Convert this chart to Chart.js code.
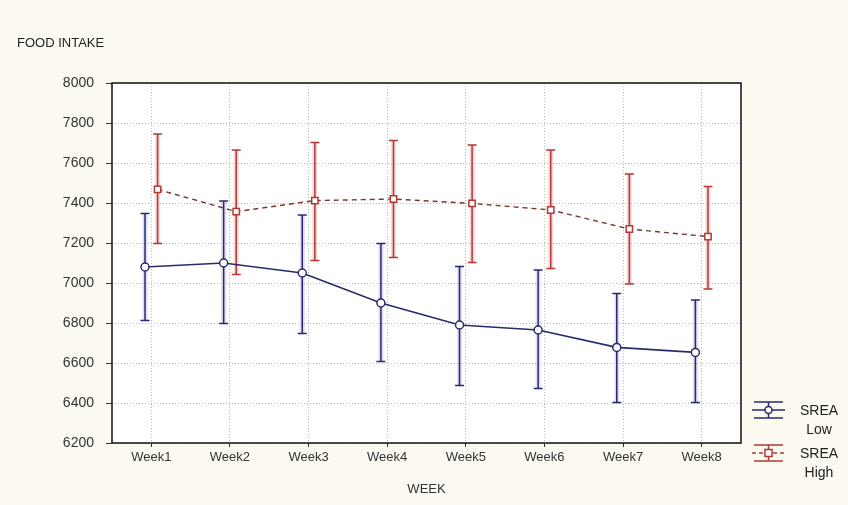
<!DOCTYPE html>
<html>
<head>
<meta charset="utf-8">
<script src="https://cdn.jsdelivr.net/npm/chart.js@4.4.1/dist/chart.umd.min.js"></script>
<style>
  html, body { margin: 0; padding: 0; background: #fbf9f0; }
  #wrap { width: 848px; height: 505px; position: relative; }
</style>
</head>
<body>
<div id="wrap"><canvas id="c" width="848" height="505"></canvas></div>
<script>
// ---- data ----
const weeks = ['Week1', 'Week2', 'Week3', 'Week4', 'Week5', 'Week6', 'Week7', 'Week8'];
const lowMean  = [7080, 7100, 7050, 6900, 6790, 6765, 6678, 6653];
const lowUpper = [7348, 7410, 7340, 7198, 7082, 7065, 6948, 6915];
const lowLower = [6812, 6798, 6748, 6607, 6487, 6473, 6402, 6402];
const highMean  = [7468, 7357, 7412, 7420, 7398, 7365, 7270, 7232];
const highUpper = [7745, 7665, 7703, 7712, 7690, 7665, 7545, 7482];
const highLower = [7198, 7043, 7112, 7128, 7102, 7073, 6995, 6970];
const yTicks = [6200, 6400, 6600, 6800, 7000, 7200, 7400, 7600, 7800, 8000];
const seriesNames = ['SREA Low', 'SREA High'];
const yTitle = 'FOOD INTAKE';
const xTitle = 'WEEK';

// ---- style ----
const BLUE = '#272b6e';
const RED = '#b03a36';
const DODGE = 0.08; // horizontal dodge of the two groups, category units
const FONT = "'Liberation Sans', Arial, sans-serif";

function pts(means, shift) {
  return means.map((v, i) => ({ x: i + 1 + shift, y: v }));
}

const errorBars = {
  id: 'errorBars',
  beforeDatasetsDraw(chart) {
    const { ctx, scales: { x, y } } = chart;
    const groups = [
      { lo: lowLower, hi: lowUpper, shift: -DODGE, color: BLUE, halo: 'rgba(150,150,220,0.30)' },
      { lo: highLower, hi: highUpper, shift: DODGE, color: RED, halo: 'rgba(235,140,140,0.35)' }
    ];
    ctx.save();
    groups.forEach(g => {
      g.lo.forEach((lo, i) => {
        const px = x.getPixelForValue(i + 1 + g.shift);
        const p1 = y.getPixelForValue(lo);
        const p2 = y.getPixelForValue(g.hi[i]);
        ctx.strokeStyle = g.halo;
        ctx.lineWidth = 5;
        ctx.beginPath(); ctx.moveTo(px, p1); ctx.lineTo(px, p2); ctx.stroke();
        ctx.strokeStyle = g.color;
        ctx.lineWidth = 1.5;
        ctx.beginPath();
        ctx.moveTo(px, p1); ctx.lineTo(px, p2);
        ctx.moveTo(px - 4.5, p1); ctx.lineTo(px + 4.5, p1);
        ctx.moveTo(px - 4.5, p2); ctx.lineTo(px + 4.5, p2);
        ctx.stroke();
      });
    });
    ctx.restore();
  }
};

const frame = {
  id: 'frame',
  beforeDraw(chart) {
    const { ctx, chartArea: a } = chart;
    ctx.save();
    ctx.fillStyle = '#ffffff';
    ctx.fillRect(a.left, a.top, a.right - a.left, a.bottom - a.top);
    ctx.restore();
  },
  afterDraw(chart) {
    const { ctx, chartArea: a } = chart;
    ctx.save();
    ctx.strokeStyle = '#111';
    ctx.lineWidth = 1.5;
    ctx.strokeRect(a.left, a.top, a.right - a.left, a.bottom - a.top);
    // y title
    ctx.fillStyle = '#222';
    ctx.font = '13px ' + FONT;
    ctx.textBaseline = 'middle';
    ctx.textAlign = 'left';
    ctx.fillText(yTitle, 17, 43);
    // legend
    const items = [
      { color: BLUE, shape: 'circle', dash: [], cy: 410, lines: seriesNames[0].split(' ') },
      { color: RED, shape: 'rect', dash: [4, 3], cy: 453, lines: seriesNames[1].split(' ') }
    ];
    items.forEach(it => {
      const x0 = 752, x1 = 785, cx = 768.5, cy = it.cy;
      ctx.strokeStyle = it.color;
      ctx.lineWidth = 1.5;
      ctx.setLineDash([]);
      ctx.beginPath();
      ctx.moveTo(x0 + 2, cy - 8); ctx.lineTo(x1 - 2, cy - 8);
      ctx.moveTo(x0 + 2, cy + 8); ctx.lineTo(x1 - 2, cy + 8);
      ctx.moveTo(cx, cy - 8); ctx.lineTo(cx, cy + 8);
      ctx.stroke();
      ctx.setLineDash(it.dash);
      ctx.beginPath(); ctx.moveTo(x0, cy); ctx.lineTo(x1, cy); ctx.stroke();
      ctx.setLineDash([]);
      ctx.fillStyle = '#fff';
      ctx.beginPath();
      if (it.shape === 'circle') ctx.arc(cx, cy, 3.5, 0, Math.PI * 2);
      else ctx.rect(cx - 3.5, cy - 3.5, 7, 7);
      ctx.fill(); ctx.stroke();
      ctx.fillStyle = '#222';
      ctx.font = '14px ' + FONT;
      ctx.textAlign = 'center';
      ctx.fillText(it.lines[0], 819, cy + 1);
      ctx.fillText(it.lines[1], 819, cy + 20);
    });
    ctx.restore();
  }
};

new Chart(document.getElementById('c'), {
  type: 'scatter',
  data: {
    datasets: [
      {
        label: seriesNames[0],
        data: pts(lowMean, -DODGE),
        showLine: true,
        borderColor: BLUE,
        borderWidth: 1.6,
        pointStyle: 'circle',
        pointRadius: 4,
        pointBorderWidth: 1.5,
        pointBorderColor: BLUE,
        pointBackgroundColor: '#ffffff'
      },
      {
        label: seriesNames[1],
        data: pts(highMean, DODGE),
        showLine: true,
        borderColor: '#7a3634',
        borderWidth: 1.4,
        borderDash: [5, 4],
        pointStyle: 'rect',
        pointRadius: 4.5,
        pointBorderWidth: 1.5,
        pointBorderColor: RED,
        pointBackgroundColor: '#ffffff'
      }
    ]
  },
  options: {
    responsive: false,
    animation: false,
    layout: { padding: { top: 83, right: 107, left: 0, bottom: 0 } },
    plugins: { legend: { display: false }, tooltip: { enabled: false }, title: { display: false } },
    scales: {
      x: {
        type: 'linear',
        min: 0.5,
        max: 8.5,
        afterBuildTicks: s => { s.ticks = weeks.map((w, i) => ({ value: i + 1 })); },
        afterFit: s => { s.height = 62; },
        ticks: {
          callback: v => weeks[Math.round(v) - 1],
          color: '#333',
          font: { family: FONT, size: 13 },
          padding: 3,
          maxRotation: 0
        },
        grid: { color: '#b8b8b8', lineWidth: 1, tickLength: 4, tickColor: '#333', tickBorderDash: [] },
        border: { display: false, dash: [1, 2] },
        title: { display: true, text: xTitle, color: '#333', font: { family: FONT, size: 13 }, padding: { top: 4, bottom: 8 } }
      },
      y: {
        min: 6200,
        max: 8000,
        afterBuildTicks: s => { s.ticks = yTicks.map(v => ({ value: v })); },
        afterFit: s => { s.width = 112; },
        ticks: { callback: v => String(v), color: '#333', font: { family: FONT, size: 14 }, padding: 12 },
        grid: { color: '#b8b8b8', lineWidth: 1, tickLength: 6, tickColor: '#333', tickBorderDash: [] },
        border: { display: false, dash: [1, 2] }
      }
    }
  },
  plugins: [frame, errorBars]
});
</script>
</body>
</html>
